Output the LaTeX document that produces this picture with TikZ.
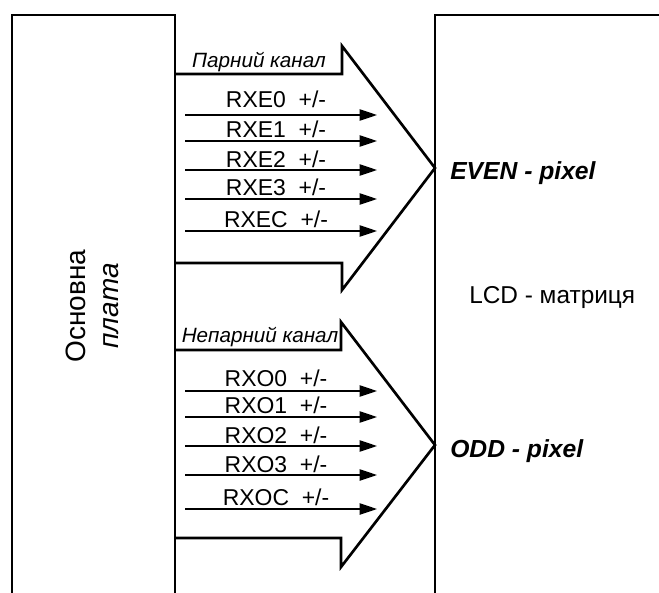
\documentclass[tikz,border=0pt]{standalone}
\usepackage{fontspec}
\setmainfont{Liberation Sans}
\usetikzlibrary{arrows.meta}
\tikzset{
  boxline/.style={line width=2pt,line join=miter},
  busline/.style={line width=2pt,line join=miter},
  sigarr/.style={-{Triangle[length=13pt,width=8.5pt]},line width=1pt},
  siglbl/.style={anchor=base,inner sep=0pt,font=\fontsize{17.2}{20}\selectfont},
  chanlbl/.style={anchor=base,inner sep=0pt,font=\fontsize{15.5}{18}\selectfont\itshape},
  pixlbl/.style={anchor=base west,inner sep=0pt,font=\fontsize{18.5}{22}\selectfont\bfseries\itshape},
  lcdlbl/.style={anchor=base west,inner sep=0pt,font=\fontsize{18.3}{22}\selectfont},
  boardlbl/.style={rotate=90,align=center,inner sep=0pt,font=\fontsize{21}{25}\selectfont}
}
\begin{document}
\begin{tikzpicture}[x=0.75pt,y=-0.75pt]
  \useasboundingbox (0,0) rectangle (659,592);
  \clip (0,0) rectangle (659,592);

  %% Boards
  \draw[boxline] (12,610) -- (12,15) -- (175,15) -- (175,610);
  \draw[boxline] (435,610) -- (435,15) -- (670,15);
  \node[boardlbl] (board) at (92.5,306) {Основна\\\textit{плата}};
  \node[lcdlbl] (lcd) at (469,303) {LCD - матриця};

  %% Even channel
  \coordinate (tipE) at (435,168);
  \draw[busline] (175,74) -- (342,74) -- (342,46) -- (tipE) -- (342,290) -- (342,263) -- (175,263);
  \node[chanlbl] (chanE) at (259,67) {Парний канал};
  \node[pixlbl] (pixE) at (450,179) {EVEN - pixel};
  \foreach \n/\y/\b in {0/115/107,1/141/137,2/170/167,3/199/195,C/231/227}{
    \coordinate (ea\n) at (185,\y);
    \coordinate (eb\n) at (377,\y);
    \draw[sigarr] (ea\n) -- (eb\n);
    \node[siglbl] (le\n) at (276,\b) {RXE\n\ \ +/-};
  }

  %% Odd channel
  \coordinate (tipO) at (435,445);
  \draw[busline] (175,350) -- (341,350) -- (341,322) -- (tipO) -- (341,567) -- (341,538) -- (175,538);
  \node[chanlbl] (chanO) at (260,342) {Непарний канал};
  \node[pixlbl] (pixO) at (450,457) {ODD - pixel};
  \foreach \n/\y/\b in {0/391/386,1/417/413,2/446/443,3/475/472,C/509/505}{
    \coordinate (oa\n) at (185,\y);
    \coordinate (ob\n) at (377,\y);
    \draw[sigarr] (oa\n) -- (ob\n);
    \node[siglbl] (lo\n) at (276,\b) {RXO\n\ \ +/-};
  }
\end{tikzpicture}
\end{document}
